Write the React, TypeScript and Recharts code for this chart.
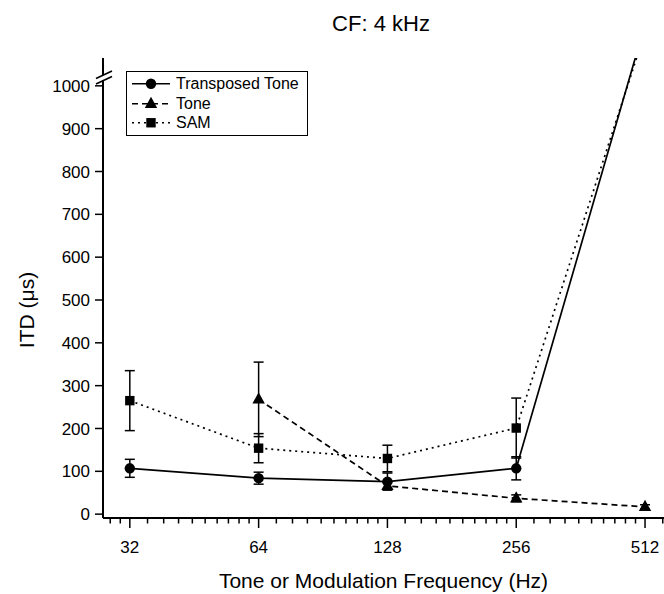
import { LineChart, Line, XAxis, YAxis, ErrorBar, Legend } from 'recharts';

const FONT = '"Liberation Sans", Arial, Helvetica, sans-serif';

// Transposed tone (solid, circles). The last point lies above the plot, off to the right.
const TT_FREQ = [32, 64, 128, 256, 1024];
const TT_ITD = [107, 84, 76, 107, 2180];
const TT_ERR = [21, 14, 20, 27, 0];

// Pure tone (dashed, triangles)
const TONE_FREQ = [64, 128, 256, 512];
const TONE_ITD = [268, 66, 37, 17];
const TONE_ERR = [87, 8, 8, 5];

// SAM (dotted, squares)
const SAM_FREQ = [32, 64, 128, 256, 1024];
const SAM_ITD = [265, 154, 130, 201, 2050];
const SAM_ERR = [70, 34, 31, 70, 0];

const MAJOR_TICKS = [32, 64, 128, 256, 512];
const MINOR_TICKS = [
  28.8, 30.4,
  35.2, 38.4, 41.6, 44.8, 48, 51.2, 54.4, 57.6, 60.8,
  70.4, 76.8, 83.2, 89.6, 96, 102.4, 108.8, 115.2, 121.6,
  140.8, 153.6, 166.4, 179.2, 192, 204.8, 217.6, 230.4, 243.2,
  281.6, 307.2, 332.8, 358.4, 384, 409.6, 435.2, 460.8, 486.4,
  563.2,
];
const Y_TICKS = [0, 100, 200, 300, 400, 500, 600, 700, 800, 900, 1000];

const X_DOMAIN: [number, number] = [27.7, 567];
const Y_DOMAIN: [number, number] = [-9, 1065];

// plot box (chart margins + axis sizes)
const W = 664;
const H = 594;
const MARGIN = { top: 58, right: 0, bottom: 0, left: 33 };
const Y_AXIS_W = 70;
const X_AXIS_H = 76;
const PLOT_LEFT = MARGIN.left + Y_AXIS_W;
const PLOT_RIGHT = W - MARGIN.right;
const PLOT_BOTTOM = H - MARGIN.bottom - X_AXIS_H;

// same log mapping as the x axis, used for the minor tick marks
const logX = (v: number) =>
  PLOT_LEFT +
  ((PLOT_RIGHT - PLOT_LEFT) * Math.log(v / X_DOMAIN[0])) / Math.log(X_DOMAIN[1] / X_DOMAIN[0]);

type Shape = 'circle' | 'triangle' | 'square';

const rows = (f: number[], v: number[], e: number[]) =>
  f.map((x, i) => ({ f: x, v: v[i], e: e[i] }));

const SERIES = [
  { key: 'tt', name: 'Transposed Tone', shape: 'circle' as Shape, dash: undefined, data: rows(TT_FREQ, TT_ITD, TT_ERR) },
  { key: 'tone', name: 'Tone', shape: 'triangle' as Shape, dash: '6 4', data: rows(TONE_FREQ, TONE_ITD, TONE_ERR) },
  { key: 'sam', name: 'SAM', shape: 'square' as Shape, dash: '2 4', data: rows(SAM_FREQ, SAM_ITD, SAM_ERR) },
];

function Marker({ shape, cx, cy }: { shape: Shape; cx: number; cy: number }) {
  if (shape === 'circle') return <circle cx={cx} cy={cy} r={5.2} fill="#000" />;
  if (shape === 'square') return <rect x={cx - 4.7} y={cy - 4.7} width={9.4} height={9.4} fill="#000" />;
  return <polygon points={`${cx},${cy - 7} ${cx - 6.2},${cy + 4.2} ${cx + 6.2},${cy + 4.2}`} fill="#000" />;
}

const dotFor = (shape: Shape) => (p: any) => (
  <Marker key={`${shape}-${p.index}`} shape={shape} cx={p.cx} cy={p.cy} />
);

function FreqTick(props: any) {
  const { x, y, payload } = props;
  return (
    <g>
      <line x1={x} x2={x} y1={y} y2={y + 10} stroke="#000" strokeWidth={1.5} />
      <text x={x} y={y + 35} textAnchor="middle" fontSize={17} fontFamily={FONT} fill="#000">
        {payload.value}
      </text>
    </g>
  );
}

function LegendBox({ payload }: any) {
  const items = SERIES.filter((s) => (payload ?? []).some((p: any) => p.value === s.name));
  return (
    <div
      style={{
        border: '1.5px solid #000',
        background: '#fff',
        padding: '2px 8px 2px 4px',
        fontFamily: FONT,
        fontSize: 16,
        lineHeight: '19.5px',
        color: '#000',
      }}
    >
      {items.map((s) => (
        <div key={s.key} style={{ display: 'flex', alignItems: 'center', height: 19.5 }}>
          <svg width={40} height={19.5} style={{ display: 'block' }}>
            <line x1={1} x2={39} y1={9.75} y2={9.75} stroke="#000" strokeWidth={1.6} strokeDasharray={s.dash} />
            <Marker shape={s.shape} cx={20} cy={9.75} />
          </svg>
          <span style={{ marginLeft: 5, whiteSpace: 'nowrap' }}>{s.name}</span>
        </div>
      ))}
    </div>
  );
}

export default function App() {
  return (
    <div style={{ position: 'relative', width: W, height: H, fontFamily: FONT, background: '#fff' }}>
      <style>{'body{margin:0;overflow:hidden}'}</style>
      <div
        style={{
          position: 'absolute',
          left: 381,
          top: 13,
          transform: 'translateX(-50%)',
          fontSize: 22,
          lineHeight: '22px',
          whiteSpace: 'nowrap',
          color: '#000',
        }}
      >
        CF: 4 kHz
      </div>
      <LineChart width={W} height={H} margin={MARGIN}>
        <XAxis
          xAxisId="top"
          orientation="top"
          type="number"
          scale="log"
          domain={X_DOMAIN}
          allowDataOverflow
          height={0}
          tick={false}
          tickLine={false}
          axisLine={{ stroke: '#000', strokeWidth: 2 }}
        />
        <XAxis
          dataKey="f"
          type="number"
          scale="log"
          domain={X_DOMAIN}
          allowDataOverflow
          ticks={MAJOR_TICKS}
          interval={0}
          tickSize={0}
          tickMargin={0}
          tickLine={false}
          tick={FreqTick}
          height={X_AXIS_H}
          axisLine={{ stroke: '#000', strokeWidth: 2 }}
          label={{
            content: ({ viewBox }: any) => (
              <text
                x={viewBox.x + viewBox.width / 2}
                y={viewBox.y + 70}
                textAnchor="middle"
                fontSize={21}
                fontFamily={FONT}
                fill="#000"
              >
                Tone or Modulation Frequency (Hz)
              </text>
            ),
          }}
        />
        <YAxis
          type="number"
          domain={Y_DOMAIN}
          allowDataOverflow
          ticks={Y_TICKS}
          interval={0}
          width={Y_AXIS_W}
          tickSize={8}
          tickMargin={5}
          tick={{ fill: '#000', fontSize: 17, fontFamily: FONT }}
          tickLine={{ stroke: '#000', strokeWidth: 1.5 }}
          axisLine={{ stroke: '#000', strokeWidth: 2 }}
          label={{
            content: ({ viewBox }: any) => {
              const cx = viewBox.x - 7;
              const cy = viewBox.y + 252;
              return (
                <text
                  x={cx}
                  y={cy}
                  transform={`rotate(-90 ${cx} ${cy})`}
                  textAnchor="middle"
                  dominantBaseline="central"
                  fontSize={21}
                  fontFamily={FONT}
                  fill="#000"
                >
                  ITD (μs)
                </text>
              );
            },
          }}
        />
        {SERIES.map((s) => (
          <Line
            key={s.key}
            data={s.data}
            dataKey="v"
            name={s.name}
            stroke="#000"
            strokeWidth={1.7}
            strokeDasharray={s.dash}
            dot={dotFor(s.shape)}
            activeDot={false}
            isAnimationActive={false}
          >
            <ErrorBar dataKey="e" direction="y" width={5} stroke="#000" strokeWidth={1.5} />
          </Line>
        ))}
        <Legend
          content={LegendBox}
          layout="vertical"
          align="center"
          verticalAlign="middle"
          wrapperStyle={{ left: 126, top: 71, width: 'auto', height: 'auto' }}
        />
      </LineChart>
      {/* minor x ticks and the axis break just above 1000 */}
      <svg width={W} height={H} style={{ position: 'absolute', left: 0, top: 0, pointerEvents: 'none' }}>
        {MINOR_TICKS.map((t) => (
          <line
            key={t}
            x1={logX(t)}
            x2={logX(t)}
            y1={PLOT_BOTTOM}
            y2={PLOT_BOTTOM + 5.5}
            stroke="#000"
            strokeWidth={1.5}
          />
        ))}
        <polygon points="97,78 112,71 112,76 97,83" fill="#fff" />
        <line x1={96} y1={78.5} x2={112} y2={71} stroke="#000" strokeWidth={1.6} />
        <line x1={96} y1={84} x2={112} y2={76.5} stroke="#000" strokeWidth={1.6} />
      </svg>
    </div>
  );
}
